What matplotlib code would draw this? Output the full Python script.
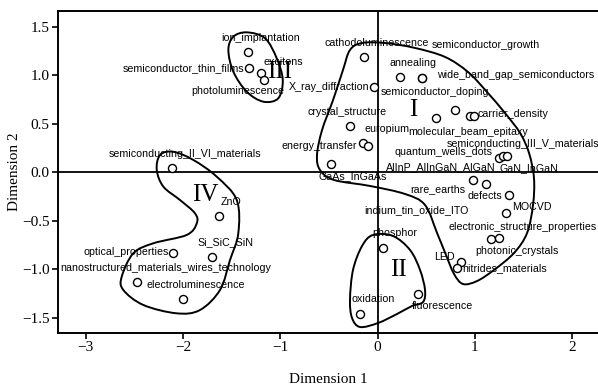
import matplotlib
matplotlib.use("Agg")
import matplotlib.pyplot as plt
from matplotlib.path import Path
from matplotlib.patches import PathPatch
import numpy as np

# term coordinates on the two MCA dimensions
terms = [
    "ion_implantation", "semiconductor_thin_films", "excitons", "photoluminescence",
    "cathodoluminescence", "X_ray_diffraction", "annealing", "wide_band_gap_semiconductors",
    "semiconductor_growth", "semiconductor_doping", "molecular_beam_epitaxy", "carrier_density",
    "semiconducting_III_V_materials", "crystal_structure", "europium", "energy_transfer",
    "quantum_wells_dots", "AlInP_AlInGaN_AlGaN", "GaN_InGaN", "GaAs_InGaAs",
    "rare_earths", "defects", "MOCVD", "electronic_structure_properties",
    "photonic_crystals", "indium_tin_oxide_ITO", "LED", "nitrides_materials",
    "phosphor", "fluorescence", "oxidation", "semiconducting_II_VI_materials",
    "ZnO", "Si_SiC_SiN", "optical_properties", "nanostructured_materials_wires_technology",
    "electroluminescence",
]
dim1 = [-1.334, -1.318, -1.197, -1.166,
        -0.136, -0.036, 0.231, 0.454,
        0.454, 0.797, 0.601, 0.951,
        0.992, -0.283, -0.146, -0.095,
        1.252, 1.293, 1.328, -0.481,
        0.978, 1.115, 1.355, 1.318,
        1.163, 1.252, 0.855, 0.820,
        0.060, 0.419, -0.180, -2.109,
        -1.629, -1.698, -2.105, -2.469,
        -1.996]
dim2 = [1.239, 1.074, 1.029, 0.954,
        1.188, 0.878, 0.988, 0.977,
        0.977, 0.644, 0.559, 0.582,
        0.582, 0.479, 0.301, 0.276,
        0.146, 0.170, 0.170, 0.085,
        -0.077, -0.119, -0.232, -0.414,
        -0.689, -0.678, -0.920, -0.988,
        -0.775, -1.253, -1.459, 0.043,
        -0.448, -0.868, -0.827, -1.126,
        -1.304]

# hand drawn cluster outlines (data units)
cluster_I = [(-0.283, 1.263), (-0.159, 1.335), (0.077, 1.335), (0.385, 1.284), (0.694, 1.191),
             (0.930, 1.036), (1.125, 0.830), (1.310, 0.613), (1.465, 0.407), (1.557, 0.201),
             (1.608, -0.057), (1.598, -0.335), (1.537, -0.624), (1.403, -0.830), (1.197, -1.005),
             (1.023, -1.119), (0.879, -1.150), (0.786, -1.046), (0.704, -0.851), (0.612, -0.624),
             (0.488, -0.335), (0.283, -0.222), (-0.077, -0.139), (-0.447, -0.077), (-0.591, 0.026),
             (-0.622, 0.180), (-0.570, 0.438), (-0.457, 0.747), (-0.355, 1.057)]
cluster_II = [(-0.046, -0.644), (0.159, -0.655), (0.334, -0.799), (0.437, -1.005), (0.488, -1.211),
              (0.468, -1.335), (0.355, -1.376), (0.200, -1.459), (0.005, -1.552), (-0.180, -1.593),
              (-0.262, -1.500), (-0.283, -1.314), (-0.252, -1.005), (-0.159, -0.758)]
cluster_III = [(-1.344, 1.445), (-1.156, 1.384), (-1.036, 1.177), (-0.974, 0.954), (-1.020, 0.765),
               (-1.174, 0.730), (-1.344, 0.833), (-1.482, 1.039), (-1.533, 1.263), (-1.482, 1.400)]
cluster_IV = [(-2.235, 0.180), (-2.099, 0.214), (-1.893, 0.129), (-1.653, -0.043), (-1.447, -0.284),
              (-1.431, -0.627), (-1.516, -0.902), (-1.619, -1.211), (-1.825, -1.418), (-2.064, -1.452),
              (-2.407, -1.366), (-2.613, -1.211), (-2.629, -1.074), (-2.510, -0.833), (-2.304, -0.730),
              (-1.961, -0.644), (-1.858, -0.524), (-1.876, -0.421), (-2.030, -0.284), (-2.201, -0.146),
              (-2.269, 0.026)]
cluster_names = ["I", "II", "III", "IV"]
cluster_centres = [(0.368, 0.644), (0.214, -1.005), (-1.002, 1.036), (-1.773, -0.232)]

# label offsets in pixels relative to each point (layout only)
label_offsets = [(12.6, 14.6), (-65.3, 0), (22.3, 11), (-26.2, -11),
                 (11.9, 14.6), (-44.7, 0), (13, 14), (94.1, 2.7),
                 (64.1, 32.7), (-20.3, 18.3), (32.3, -13.4), (43.3, 2),
                 (49, -27.7), (-3, 14.3), (23.4, 14), (-48.6, 0),
                 (-55.5, 6.6), (-62.8, -11), (22.1, -12.3), (22.1, -11.7),
                 (-35.2, -9.3), (-1, -12), (22.2, -12.3), (16.5, -14),
                 (26, -11.4), (-83, 28.3), (-16.2, 4.4), (47.2, 0.6),
                 (11.2, 15), (24.5, -11.7), (12.8, 14.7), (12.4, 14),
                 (12.3, 14.3), (12.7, 15), (-46.7, 1), (28.7, 13.2),
                 (12.5, 14)]


def smooth_closed(points):
    """closed catmull-rom curve through the points, as a bezier path"""
    p = np.array(points)
    n = len(p)
    verts = [p[0]]
    codes = [Path.MOVETO]
    for i in range(n):
        p0, p1, p2, p3 = p[i - 1], p[i], p[(i + 1) % n], p[(i + 2) % n]
        verts += [p1 + (p2 - p0) / 6, p2 - (p3 - p1) / 6, p2]
        codes += [Path.CURVE4] * 3
    return Path(verts, codes)


fig = plt.figure(figsize=(5.98, 3.85), dpi=100)
ax = fig.add_axes([0.097, 0.1358, 0.903, 0.8364])

ax.axhline(0, color="black", lw=1.3, zorder=1)
ax.axvline(0, color="black", lw=1.3, zorder=1)

for outline in [cluster_I, cluster_II, cluster_III, cluster_IV]:
    ax.add_patch(PathPatch(smooth_closed(outline), facecolor="none",
                           edgecolor="black", lw=1.4, zorder=2))

ax.plot(dim1, dim2, linestyle="", marker="o", ms=5.8, mfc="white",
        mec="black", mew=1.0, zorder=3)

for name, x, y, off in zip(terms, dim1, dim2, label_offsets):
    ax.annotate(name, (x, y), xytext=off, textcoords="offset pixels",
                ha="center", va="center", fontsize=7.7,
                family="Liberation Sans", zorder=4)

for name, (cx, cy) in zip(cluster_names, cluster_centres):
    ax.text(cx, cy, name, fontsize=18, family="Liberation Serif",
            ha="center", va="center", zorder=4)

ax.set_xlim(-3.284, 2.266)
ax.set_ylim(-1.652, 1.668)
ax.set_xticks([-3, -2, -1, 0, 1, 2])
ax.set_yticks([-1.5, -1.0, -0.5, 0.0, 0.5, 1.0, 1.5])

for side in ["left", "bottom", "top"]:
    ax.spines[side].set_linewidth(1.4)
ax.spines["right"].set_visible(False)
ax.tick_params(direction="out", length=4, width=1.2, pad=2, labelsize=11)
for lab in ax.get_xticklabels() + ax.get_yticklabels():
    lab.set_family("Liberation Serif")

ax.set_xlabel("Dimension 1", family="Liberation Serif", fontsize=11, labelpad=14)
ax.set_ylabel("Dimension 2", family="Liberation Serif", fontsize=11, labelpad=1)

fig.savefig("out.png", dpi=100)
